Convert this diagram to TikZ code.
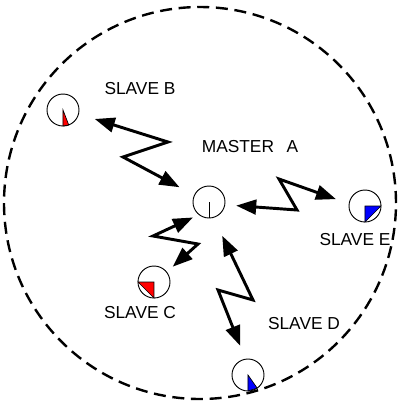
\documentclass[tikz,border=0pt]{standalone}
\usepackage{fontspec}
\setmainfont{Liberation Sans}
\usetikzlibrary{arrows.meta}

\begin{document}
\begin{tikzpicture}[x=0.75pt,y=-0.75pt,
  unit/.style={circle,draw,line width=0.7pt,fill=white,minimum size=24pt,inner sep=0pt,outer sep=0pt},
  wedge/.style={draw,line width=0.5pt},
  tag/.style={font=\fontsize{13}{15}\selectfont,inner sep=0pt},
  bolt/.style={line width=2.2pt,{Triangle[length=15pt,width=11pt]}-{Triangle[length=15pt,width=11pt]}}]
  \useasboundingbox (0,0) rectangle (399,405);
  % range of the master
  \draw[line width=1.8pt,dash pattern=on 9pt off 5pt] (200,203) circle[radius=147pt];

  \node[unit] (slaveB) at (63,110) {};
  \node[unit] (master) at (209,202) {};
  \node[unit] (slaveE) at (365,206) {};
  \node[unit] (slaveC) at (154,282) {};
  \node[unit] (slaveD) at (248,375) {};

  \draw[wedge,fill=red] (slaveB.center) -- (slaveB.-90) -- (slaveB.-69) -- cycle;
  \draw[line width=0.7pt] (master.center) -- (master.-90);
  \draw[wedge,fill=blue] (slaveE.center) -- (slaveE.0) -- (slaveE.-90) -- cycle;
  \draw[wedge,fill=red] (slaveC.center) -- (slaveC.180) -- (slaveC.-90) -- cycle;
  \draw[wedge,fill=blue] (slaveD.center) -- (slaveD.-90) -- (slaveD.-55) -- cycle;

  \node[tag] (labB) at (140,89) {SLAVE B};
  \node[tag] (labA) at (250,147) {MASTER~~\,A};
  \node[tag] (labE) at (355,240) {SLAVE E};
  \node[tag] (labC) at (140,313) {SLAVE C};
  \node[tag] (labD) at (304,324) {SLAVE D};

  % radio links
  \coordinate (ba1) at (168,142); \coordinate (ba2) at (123,157);
  \draw[bolt,shorten <=12.75pt,shorten >=12.75pt] (slaveB.-14) -- (ba1) -- (ba2) -- (master.155);
  \coordinate (ae1) at (297,210); \coordinate (ae2) at (279,179);
  \draw[bolt,shorten <=8.6pt,shorten >=10.5pt] (master.-10) -- (ae1) -- (ae2) -- (slaveE.172);
  \coordinate (ac1) at (153,236); \coordinate (ac2) at (198,244);
  \draw[bolt,shorten <=5.1pt,shorten >=6.1pt] (master.-128) -- (ac1) -- (ac2) -- (slaveC.38);
  \coordinate (ad1) at (253,300); \coordinate (ad2) at (218,290);
  \draw[bolt,shorten <=15.3pt,shorten >=10.8pt] (master.-74) -- (ad1) -- (ad2) -- (slaveD.99.5);
\end{tikzpicture}
\end{document}
